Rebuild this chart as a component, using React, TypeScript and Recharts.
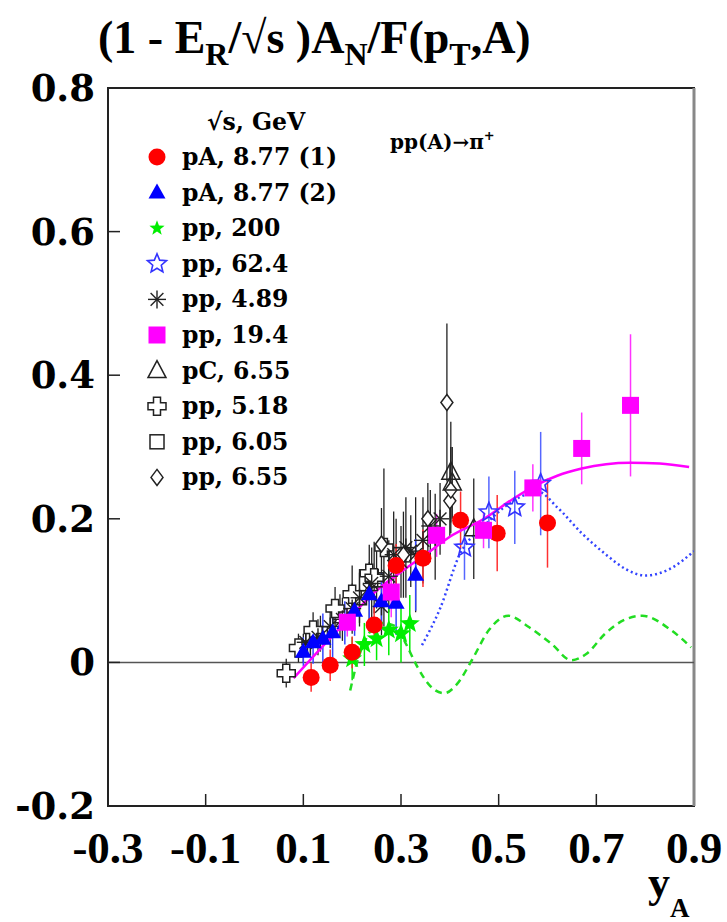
import React from "react";
import {
  ComposedChart,
  Scatter,
  Line,
  XAxis,
  YAxis,
  ErrorBar,
  ReferenceLine,
  ReferenceArea,
} from "recharts";

// pA, 8.77 (1) - red dots
const pA1X = [0.116, 0.155, 0.2, 0.245, 0.29, 0.345, 0.422, 0.497, 0.6];
const pA1Y = [-0.021, -0.004, 0.014, 0.052, 0.135, 0.145, 0.198, 0.18, 0.194];
const pA1E = [0.02, 0.022, 0.022, 0.025, 0.03, 0.04, 0.04, 0.053, 0.062];

// pA, 8.77 (2) - blue triangles
const pA2X = [0.1, 0.12, 0.14, 0.16, 0.185, 0.205, 0.235, 0.26, 0.29, 0.33];
const pA2Y = [0.015, 0.028, 0.033, 0.042, 0.055, 0.072, 0.095, 0.085, 0.083, 0.122];
const pA2E = [0.02, 0.03, 0.035, 0.035, 0.03, 0.035, 0.04, 0.04, 0.045, 0.05];

// pp, 200 - green stars
const pp200X = [0.2, 0.225, 0.25, 0.275, 0.3, 0.318];
const pp200Y = [0.005, 0.025, 0.033, 0.045, 0.04, 0.054];
const pp200E = [0.03, 0.03, 0.03, 0.035, 0.04, 0.04];

// pp, 62.4 - open blue stars
const pp62X = [0.43, 0.48, 0.533, 0.586];
const pp62Y = [0.16, 0.209, 0.216, 0.249];
const pp62E = [0.045, 0.05, 0.051, 0.072];

// pp, 4.89 - asterisks
const pp489X = [0.105, 0.13, 0.155, 0.18, 0.2, 0.215, 0.235, 0.24, 0.26, 0.275, 0.285, 0.3, 0.31, 0.32, 0.33, 0.345, 0.36, 0.37, 0.38];
const pp489Y = [0.028, 0.035, 0.05, 0.06, 0.075, 0.09, 0.1, 0.11, 0.078, 0.12, 0.15, 0.14, 0.16, 0.155, 0.15, 0.17, 0.19, 0.175, 0.2];
const pp489E = [0.02, 0.025, 0.03, 0.03, 0.035, 0.04, 0.04, 0.05, 0.04, 0.05, 0.06, 0.05, 0.07, 0.05, 0.08, 0.06, 0.05, 0.06, 0.05];

// pp, 19.4 - magenta squares
const pp194X = [0.19, 0.28, 0.373, 0.469, 0.57, 0.67, 0.77];
const pp194Y = [0.056, 0.098, 0.177, 0.184, 0.243, 0.298, 0.358];
const pp194E = [0.02, 0.035, 0.03, 0.025, 0.033, 0.05, 0.099];

// pC, 6.55 - open triangles
const pC655X = [0.402, 0.405, 0.449];
const pC655Y = [0.265, 0.25, 0.186];
const pC655E = [0.07, 0.05, 0.07];

// pp, 5.18 - open crosses
const pp518X = [0.065, 0.09, 0.12, 0.165, 0.2, 0.235, 0.245, 0.265];
const pp518Y = [-0.015, 0.02, 0.045, 0.075, 0.095, 0.124, 0.118, 0.16];
const pp518E = [0.02, 0.02, 0.025, 0.03, 0.04, 0.04, 0.05, 0.11];

// pp, 6.05 - open squares
const pp605X = [0.1, 0.135, 0.175, 0.215, 0.25, 0.29];
const pp605Y = [0.02, 0.04, 0.065, 0.09, 0.115, 0.15];
const pp605E = [0.02, 0.025, 0.03, 0.035, 0.04, 0.05];

// pp, 6.55 - open diamonds
const pp655X = [0.26, 0.305, 0.355, 0.4, 0.402, 0.394];
const pp655Y = [0.165, 0.15, 0.2, 0.225, 0.24, 0.362];
const pp655E = [0.05, 0.06, 0.05, 0.05, 0.06, 0.11];

// model curves
const magentaX = [0.08, 0.15, 0.2, 0.25, 0.3, 0.35, 0.4, 0.47, 0.53, 0.58, 0.62, 0.67, 0.72, 0.77, 0.83, 0.89];
const magentaY = [-0.022, 0.03, 0.066, 0.1, 0.126, 0.15, 0.175, 0.2, 0.228, 0.248, 0.26, 0.27, 0.276, 0.278, 0.277, 0.272];
const blueX = [0.343, 0.38, 0.42, 0.47, 0.53, 0.58, 0.62, 0.67, 0.72, 0.76, 0.8, 0.85, 0.9];
const blueY = [0.024, 0.075, 0.15, 0.19, 0.225, 0.238, 0.216, 0.18, 0.15, 0.13, 0.121, 0.13, 0.155];
const greenX = [0.196, 0.21, 0.23, 0.26, 0.29, 0.31, 0.335, 0.36, 0.388, 0.415, 0.445, 0.48, 0.52, 0.56, 0.608, 0.649, 0.68, 0.718, 0.76, 0.794, 0.853, 0.894];
const greenY = [-0.039, 0.0, 0.035, 0.055, 0.05, 0.026, -0.008, -0.033, -0.043, -0.03, 0.003, 0.045, 0.065, 0.05, 0.026, 0.003, 0.012, 0.04, 0.06, 0.065, 0.045, 0.021];

const xTicks = [-0.3, -0.1, 0.1, 0.3, 0.5, 0.7, 0.9];
const yTicks = [-0.2, 0, 0.2, 0.4, 0.6, 0.8];

const pts = (xs: number[], ys: number[], es: number[]) =>
  xs.map((x, i) => ({ x, y: ys[i], err: es[i] }));
const curve = (xs: number[], ys: number[]) => xs.map((x, i) => ({ x, y: ys[i] }));

const BLACK = "#222";

const starPts = (cx: number, cy: number, ro: number, ri: number) =>
  Array.from({ length: 10 }, (_, i) => {
    const a = -Math.PI / 2 + (i * Math.PI) / 5;
    const r = i % 2 ? ri : ro;
    return `${cx + r * Math.cos(a)},${cy + r * Math.sin(a)}`;
  }).join(" ");

// marker shapes
const RedDot = ({ cx, cy }: any) => <circle cx={cx} cy={cy} r={8.5} fill="#ff0000" />;
const BlueTri = ({ cx, cy }: any) => (
  <polygon points={`${cx},${cy - 9} ${cx - 8.5},${cy + 6} ${cx + 8.5},${cy + 6}`} fill="#0000ff" />
);
const GreenStar = ({ cx, cy, r = 10.5 }: any) => <polygon points={starPts(cx, cy, r, r * 0.42)} fill="#00ee00" />;
const OpenStar = ({ cx, cy }: any) => (
  <polygon points={starPts(cx, cy, 10, 4.5)} fill="none" stroke="#3333ff" strokeWidth={1.6} />
);
const Asterisk = ({ cx, cy }: any) => (
  <g stroke={BLACK} strokeWidth={1.4}>
    {[0, 45, 90, 135].map((a) => {
      const r = (a * Math.PI) / 180;
      const dx = 9 * Math.cos(r);
      const dy = 9 * Math.sin(r);
      return <line key={a} x1={cx - dx} y1={cy - dy} x2={cx + dx} y2={cy + dy} />;
    })}
  </g>
);
const MagSquare = ({ cx, cy }: any) => <rect x={cx - 8.5} y={cy - 8.5} width={17} height={17} fill="#ff00ff" />;
const OpenTri = ({ cx, cy }: any) => (
  <polygon points={`${cx},${cy - 10} ${cx - 9},${cy + 7} ${cx + 9},${cy + 7}`} fill="none" stroke={BLACK} strokeWidth={1.5} />
);
const OpenCross = ({ cx, cy }: any) => {
  const a = 3.5;
  const b = 9;
  const p = [
    [-a, -b], [a, -b], [a, -a], [b, -a], [b, a], [a, a],
    [a, b], [-a, b], [-a, a], [-b, a], [-b, -a], [-a, -a],
  ].map(([dx, dy]) => `${cx + dx},${cy + dy}`).join(" ");
  return <polygon points={p} fill="#fff" stroke={BLACK} strokeWidth={1.5} />;
};
const OpenSquare = ({ cx, cy }: any) => (
  <rect x={cx - 7} y={cy - 7} width={14} height={14} fill="none" stroke={BLACK} strokeWidth={1.5} />
);
const OpenDiamond = ({ cx, cy }: any) => (
  <polygon points={`${cx},${cy - 8} ${cx + 6},${cy} ${cx},${cy + 8} ${cx - 6},${cy}`} fill="#fff" stroke={BLACK} strokeWidth={1.5} />
);

const legendRows = [
  { label: "pA, 8.77 (1)", Shape: RedDot },
  { label: "pA, 8.77 (2)", Shape: BlueTri },
  { label: "pp, 200", Shape: (p: any) => <GreenStar {...p} r={8} /> },
  { label: "pp, 62.4", Shape: OpenStar },
  { label: "pp, 4.89", Shape: Asterisk },
  { label: "pp, 19.4", Shape: MagSquare },
  { label: "pC, 6.55", Shape: OpenTri },
  { label: "pp, 5.18", Shape: OpenCross },
  { label: "pp, 6.05", Shape: OpenSquare },
  { label: "pp, 6.55", Shape: OpenDiamond },
];

const fmt = (v: number) => (Math.abs(v) < 1e-9 ? "0" : v.toFixed(1));

// plot frame in page pixels (ticks point inward)
const LEFT = 108;
const BOTTOM = 806;

const XTick = ({ x, payload }: any) => {
  const v = payload.value;
  const inner = v > -0.29 && v < 0.89;
  return (
    <g>
      {inner && <line x1={x} x2={x} y1={BOTTOM} y2={BOTTOM - 12} stroke={BLACK} strokeWidth={1.5} />}
      <text x={x} y={BOTTOM + 57} textAnchor="middle" fontFamily="Liberation Serif" fontWeight="bold" fontSize={45} fill="#000">
        {fmt(v)}
      </text>
    </g>
  );
};

const YTick = ({ y, payload }: any) => {
  const v = payload.value;
  const inner = v > -0.19 && v < 0.79;
  return (
    <g>
      {inner && <line x1={LEFT} x2={LEFT + 12} y1={y} y2={y} stroke={BLACK} strokeWidth={1.5} />}
      <text x={LEFT - 13} y={y + 13} textAnchor="end" fontFamily="DejaVu Serif" fontWeight="bold" fontSize={37} fill="#000">
        {fmt(v)}
      </text>
    </g>
  );
};

const serif = "DejaVu Serif";

export default function App() {
  return (
    <div style={{ position: "absolute", left: 0, top: 0, width: 727, height: 922, background: "#fff" }}>
      <ComposedChart width={727} height={922} margin={{ top: 88, right: 33, bottom: 0, left: 0 }}>
        <XAxis
          dataKey="x"
          type="number"
          domain={[-0.3, 0.9]}
          ticks={xTicks}
          allowDataOverflow
          height={116}
          tickLine={false}
          axisLine={false}
          tick={(p: any) => <XTick {...p} />}
          interval={0}
        />
        <YAxis
          type="number"
          domain={[-0.2, 0.8]}
          ticks={yTicks}
          allowDataOverflow
          width={108}
          tickLine={false}
          axisLine={false}
          tick={(p: any) => <YTick {...p} />}
          interval={0}
        />
        <ReferenceArea x1={-0.3} x2={0.9} y1={-0.2} y2={0.8} fill="none" stroke={BLACK} strokeWidth={2} />
        <ReferenceLine x={0.9} stroke="#888" strokeWidth={3} />
        <ReferenceLine y={0} stroke="#555" strokeWidth={1.5} />

        <Scatter data={pts(pp605X, pp605Y, pp605E)} dataKey="y" shape={(p: any) => <OpenSquare {...p} />} isAnimationActive={false}>
          <ErrorBar dataKey="err" direction="y" width={0} stroke={BLACK} strokeWidth={1.3} isAnimationActive={false} />
        </Scatter>
        <Scatter data={pts(pp518X, pp518Y, pp518E)} dataKey="y" shape={(p: any) => <OpenCross {...p} />} isAnimationActive={false}>
          <ErrorBar dataKey="err" direction="y" width={0} stroke={BLACK} strokeWidth={1.3} isAnimationActive={false} />
        </Scatter>
        <Scatter data={pts(pp489X, pp489Y, pp489E)} dataKey="y" shape={(p: any) => <Asterisk {...p} />} isAnimationActive={false}>
          <ErrorBar dataKey="err" direction="y" width={0} stroke={BLACK} strokeWidth={1.3} isAnimationActive={false} />
        </Scatter>
        <Scatter data={pts(pp655X, pp655Y, pp655E)} dataKey="y" shape={(p: any) => <OpenDiamond {...p} />} isAnimationActive={false}>
          <ErrorBar dataKey="err" direction="y" width={0} stroke={BLACK} strokeWidth={1.3} isAnimationActive={false} />
        </Scatter>
        <Scatter data={pts(pC655X, pC655Y, pC655E)} dataKey="y" shape={(p: any) => <OpenTri {...p} />} isAnimationActive={false}>
          <ErrorBar dataKey="err" direction="y" width={0} stroke={BLACK} strokeWidth={1.3} isAnimationActive={false} />
        </Scatter>
        <Scatter data={pts(pp200X, pp200Y, pp200E)} dataKey="y" shape={(p: any) => <GreenStar {...p} />} isAnimationActive={false}>
          <ErrorBar dataKey="err" direction="y" width={0} stroke="#00ee00" strokeWidth={1.5} isAnimationActive={false} />
        </Scatter>
        <Scatter data={pts(pA2X, pA2Y, pA2E)} dataKey="y" shape={(p: any) => <BlueTri {...p} />} isAnimationActive={false}>
          <ErrorBar dataKey="err" direction="y" width={0} stroke="#3344ff" strokeWidth={1.5} isAnimationActive={false} />
        </Scatter>
        <Scatter data={pts(pA1X, pA1Y, pA1E)} dataKey="y" shape={(p: any) => <RedDot {...p} />} isAnimationActive={false}>
          <ErrorBar dataKey="err" direction="y" width={0} stroke="#ff3030" strokeWidth={1.5} isAnimationActive={false} />
        </Scatter>
        <Scatter data={pts(pp62X, pp62Y, pp62E)} dataKey="y" shape={(p: any) => <OpenStar {...p} />} isAnimationActive={false}>
          <ErrorBar dataKey="err" direction="y" width={0} stroke="#5566ff" strokeWidth={1.5} isAnimationActive={false} />
        </Scatter>
        <Scatter data={pts(pp194X, pp194Y, pp194E)} dataKey="y" shape={(p: any) => <MagSquare {...p} />} isAnimationActive={false}>
          <ErrorBar dataKey="err" direction="y" width={0} stroke="#ff33ff" strokeWidth={1.5} isAnimationActive={false} />
        </Scatter>

        <Line data={curve(greenX, greenY)} dataKey="y" type="monotone" dot={false} activeDot={false}
          stroke="#22dd22" strokeWidth={2.5} strokeDasharray="7 5" isAnimationActive={false} />
        <Line data={curve(blueX, blueY)} dataKey="y" type="monotone" dot={false} activeDot={false}
          stroke="#3344ff" strokeWidth={2.5} strokeDasharray="2 3" isAnimationActive={false} />
        <Line data={curve(magentaX, magentaY)} dataKey="y" type="monotone" dot={false} activeDot={false}
          stroke="#ff00ff" strokeWidth={2.5} isAnimationActive={false} />
      </ComposedChart>

      <svg width={727} height={922} style={{ position: "absolute", left: 0, top: 0, pointerEvents: "none" }}>
        <text x={98} y={53} fontFamily="Liberation Serif" fontWeight="bold" fontSize={46} fill="#000">
          (1 - E<tspan fontSize={32} dy={12}>R</tspan>
          <tspan dy={-12}>/√s )A</tspan>
          <tspan fontSize={32} dy={12}>N</tspan>
          <tspan dy={-12}>/F(p</tspan>
          <tspan fontSize={32} dy={12}>T</tspan>
          <tspan dy={-12}>,A)</tspan>
        </text>

        <text x={207} y={130} fontFamily={serif} fontWeight="bold" fontSize={23.5} fill="#000">√s, GeV</text>
        {legendRows.map(({ label, Shape }, i) => {
          const cy = 157 + i * 35.6;
          return (
            <g key={label}>
              <Shape cx={157} cy={cy} />
              <text x={182} y={cy + 8} fontFamily={serif} fontWeight="bold" fontSize={23.5} fill="#000">{label}</text>
            </g>
          );
        })}

        <text x={390} y={149} fontFamily={serif} fontWeight="bold" fontSize={20} fill="#000">
          pp(A)→π<tspan fontSize={13} dy={-9}>+</tspan>
        </text>

        <text x={648} y={897} fontFamily="Liberation Serif" fontWeight="bold" fontSize={44} fill="#000">
          y<tspan fontSize={27} dy={20}>A</tspan>
        </text>
      </svg>
    </div>
  );
}
